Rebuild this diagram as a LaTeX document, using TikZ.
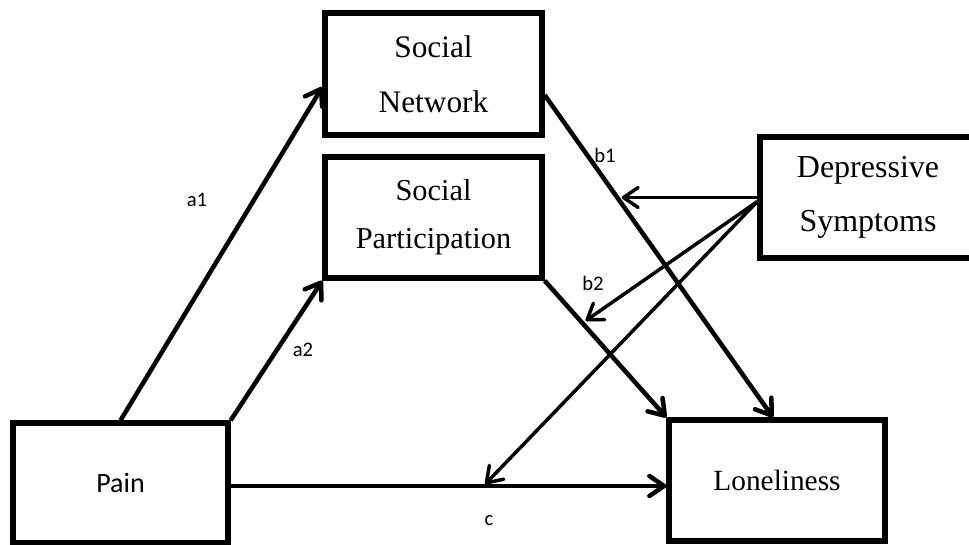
\documentclass[tikz,border=0pt]{standalone}
\usepackage{fontspec}
\setmainfont{Liberation Serif}
\newfontfamily\coeffont{Carlito}
\usetikzlibrary{arrows.meta,calc}

\begin{document}
\begin{tikzpicture}[x=0.75pt,y=-0.75pt,
  box/.style={draw,line width=4pt,rectangle,inner sep=0pt,align=center,
    font=\fontsize{23.5}{41}\selectfont},
  link/.style={line width=3.4pt,-{Straight Barb[length=11pt,width=15pt,round]}},
  dlink/.style={line width=2.6pt,-{Straight Barb[length=11pt,width=15pt,round]}},
  coef/.style={font=\coeffont\fontsize{15.5}{18}\selectfont,inner sep=0pt}
]
\useasboundingbox (0,0) rectangle (969,544);
\clip (0,0) rectangle (969,544);

% variables
\node[box,minimum width=161.25pt,minimum height=90pt,
      font=\coeffont\fontsize{21}{25}\selectfont] (pain) at (120.5,483) {Pain};
\node[box,minimum width=162pt,minimum height=90.75pt,
      font=\fontsize{22}{41}\selectfont] (lon) at (777,480.5) {Loneliness};
\node[box,minimum width=162.75pt,minimum height=91.5pt] (sn) at (433.5,74) {Social\\Network};
\node[box,minimum width=162.75pt,minimum height=90.75pt,
      font=\fontsize{22.8}{36}\selectfont] (sp) at (433.5,217.5) {Social\\Participation};
\node[box,minimum width=162pt,minimum height=90.75pt,
      font=\fontsize{24}{41}\selectfont] (dep) at (868,197.5) {Depressive\\Symptoms};

% paths a1, a2, b1, b2, c
\draw[link] (pain.north) -- ($(sn.west)+(0,13)$);
\draw[link] (pain.north east) -- (sp.south west);
\draw[link] ($(sn.east)+(0,21)$) -- coordinate[pos=0.32] (m1) ($(lon.north)+(-4,0)$);
\draw[link] (sp.south east) -- coordinate[pos=0.31] (m2) (lon.north west);
\draw[link] ($(pain.east)+(0,3)$) -- coordinate[pos=0.58] (m3) ($(lon.west)+(0,5.5)$);

% moderation by depressive symptoms
\draw[dlink,shorten >=3pt] (dep.west) -- (dep.west -| m1);
\draw[dlink,shorten >=3pt] ($(dep.west)+(0,4)$) -- (m2);
\draw[dlink,shorten >=2pt] ($(dep.west)+(0,4)$) -- (m3);

% path labels
\node[coef] (la1) at (197,200) {a1};
\node[coef] (la2) at (303,350) {a2};
\node[coef] (lb1) at (605,155) {b1};
\node[coef] (lb2) at (593,283) {b2};
\node[coef] (lc) at (489,521) {c};
\end{tikzpicture}
\end{document}
